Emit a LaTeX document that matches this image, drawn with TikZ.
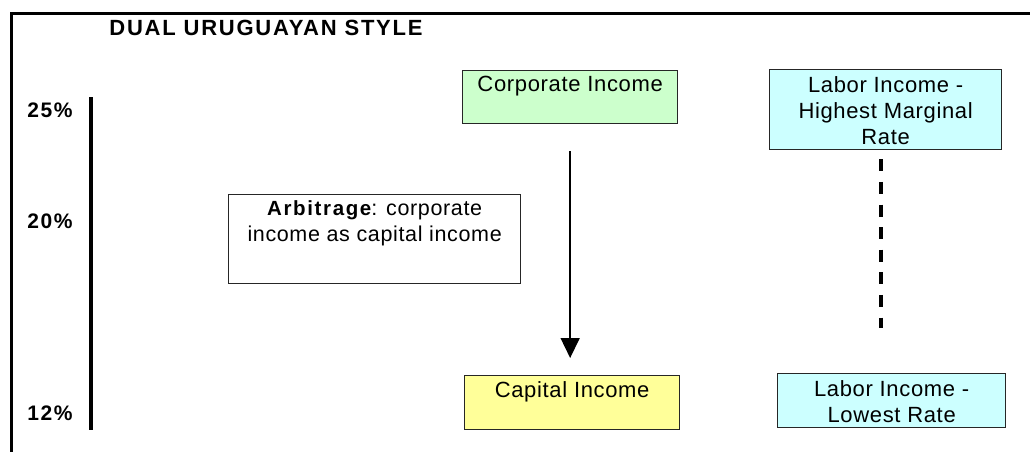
\documentclass[tikz,border=0pt]{standalone}
\usepackage{fontspec}
\setmainfont{Liberation Sans}
\newfontfamily\plainfont{Liberation Sans}[LetterSpace=3]
\newfontfamily\widefont{Liberation Sans}[LetterSpace=8]
\usetikzlibrary{arrows.meta}
\definecolor{corp-green}{RGB}{204, 255, 204}
\definecolor{labor-cyan}{RGB}{204, 255, 255}
\definecolor{capital-yellow}{RGB}{255, 255, 153}
\tikzset{
  incbox/.style={draw=black!85, line width=1.3pt, anchor=north west, inner sep=0pt},
  boxtext/.style={font=\plainfont\fontsize{22}{26}\selectfont, align=center, anchor=north, inner sep=0pt},
  ratelabel/.style={font=\widefont\bfseries\fontsize{21}{22}\selectfont, inner sep=0pt},
}

\begin{document}
\begin{tikzpicture}[x=1pt, y=-1pt]
\useasboundingbox (0,0) rectangle (1030,452);
% frame
\draw[line width=3pt] (11,452) -- (11,13.5) -- (1030,13.5);
\node[ratelabel, font=\widefont\bfseries\fontsize{22}{22}\selectfont] (title) at (266,28) {DUAL URUGUAYAN STYLE};

% rate scale
\draw[line width=4pt] (90.5,97) -- (90.5,430);
\node[ratelabel] (r25) at (50,110) {25\%};
\node[ratelabel] (r20) at (50,221) {20\%};
\node[ratelabel] (r12) at (50,413) {12\%};

% boxes
\node[incbox, fill=corp-green, minimum width=215pt, minimum height=53pt] (corp) at (462,70) {};
\node[boxtext] (corptxt) at ([yshift=-6pt]corp.north) {Corporate Income};

\node[incbox, fill=labor-cyan, minimum width=232pt, minimum height=80pt] (hi) at (769,69) {};
\node[boxtext] (hitxt) at ([yshift=-7pt]hi.north) {Labor Income -\\Highest Marginal\\Rate};

\node[incbox, fill=white, minimum width=292pt, minimum height=89pt] (arb) at (228,194) {};
\node[boxtext, font=\plainfont\fontsize{21.5}{26}\selectfont] (arbtxt) at ([yshift=-6pt]arb.north) {{\widefont\fontsize{20.5}{26}\selectfont\bfseries Arbitrage}: corporate\\income as capital income};

\node[incbox, fill=capital-yellow, minimum width=215pt, minimum height=54pt] (cap) at (464,375) {};
\node[boxtext] (captxt) at ([yshift=-6pt]cap.north) {Capital Income};

\node[incbox, fill=labor-cyan, minimum width=228pt, minimum height=54pt] (lo) at (777,373) {};
\node[boxtext] (lotxt) at ([yshift=-7pt]lo.north) {Labor Income -\\Lowest Rate};

% connectors
\draw[line width=1.6pt, -{Triangle[length=20pt, width=19pt]}, shorten <=27pt, shorten >=17pt] (corp.south) -- (corp.south |- cap.north);
\draw[line width=4pt, dash pattern=on 12pt off 10.6pt, shorten <=9pt, shorten >=45pt] ([xshift=-5pt]hi.south) -- ([xshift=-5pt]hi.south |- lo.north);
\end{tikzpicture}
\end{document}
